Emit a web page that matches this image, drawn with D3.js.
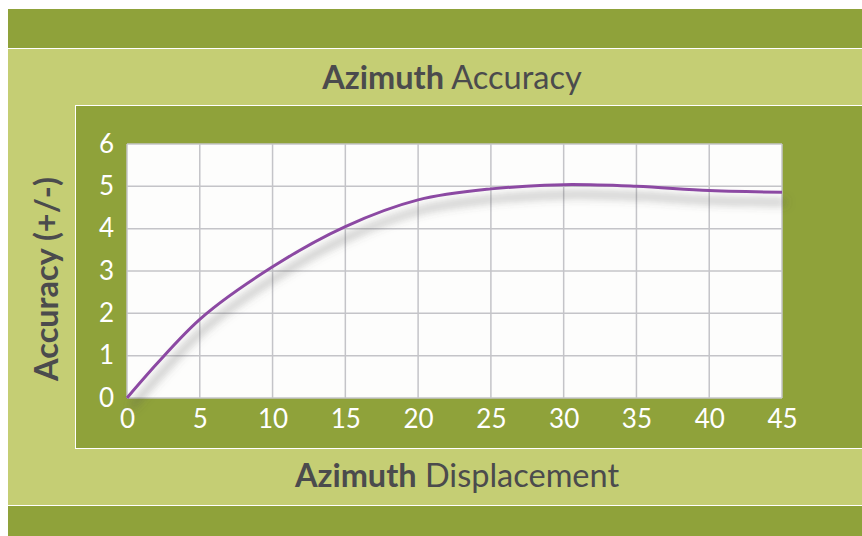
<!DOCTYPE html>
<html>
<head>
<meta charset="utf-8">
<script src="https://cdn.jsdelivr.net/npm/d3@7"></script>
<style>
  body { margin: 0; background: #fff; }
  svg { display: block; font-family: Lato, "Open Sans", sans-serif; }
</style>
</head>
<body>
<svg id="chart" width="862" height="536"></svg>
<script>
// Valeurs
const displacement = [0, 5, 10, 15, 20, 25, 30, 35, 40, 45];
const accuracy = [0, 1.86, 3.1, 4.05, 4.68, 4.94, 5.04, 5.0, 4.9, 4.86];
const xTicks = [0, 5, 10, 15, 20, 25, 30, 35, 40, 45];
const yTicks = [0, 1, 2, 3, 4, 5, 6];

const dark = '#8fa23a';
const light = '#c5ce74';
const textColor = '#4b4b4d';

const svg = d3.select('#chart');

// Bandes de fond
svg.append('rect').attr('x', 8).attr('y', 9).attr('width', 854).attr('height', 39).attr('fill', dark);
svg.append('rect').attr('x', 8).attr('y', 49).attr('width', 854).attr('height', 456).attr('fill', light);
svg.append('rect').attr('x', 8).attr('y', 506).attr('width', 854).attr('height', 30).attr('fill', dark);

// Panneau intérieur
svg.append('rect').attr('x', 75.5).attr('y', 105.5).attr('width', 800).attr('height', 343)
    .attr('fill', dark).attr('stroke', '#fff').attr('stroke-width', 1);

const x = d3.scaleLinear().domain([0, 45]).range([127, 782]);
const y = d3.scaleLinear().domain([0, 6]).range([398, 144]);

// Zone du graphique
svg.append('rect')
    .attr('x', x(0)).attr('y', y(6))
    .attr('width', x(45) - x(0)).attr('height', y(0) - y(6))
    .attr('fill', '#fdfdfc');

// Grille
const grid = svg.append('g');
grid.selectAll('.vline')
    .data(xTicks)
    .enter().append('line')
    .attr('x1', d => x(d)).attr('x2', d => x(d))
    .attr('y1', y(0)).attr('y2', y(6))
    .attr('stroke', '#c4c4c8').attr('stroke-width', 1.5);
grid.selectAll('.hline')
    .data(yTicks)
    .enter().append('line')
    .attr('x1', x(0)).attr('x2', x(45))
    .attr('y1', d => y(d)).attr('y2', d => y(d))
    .attr('stroke', '#c4c4c8').attr('stroke-width', 1.5);

// Axes (étiquettes blanches)
const xAxis = d3.axisBottom(x).tickValues(xTicks).tickSize(0).tickPadding(12).tickFormat(d3.format('d'));
const yAxis = d3.axisLeft(y).tickValues(yTicks).tickSize(0).tickPadding(13).tickFormat(d3.format('d'));

svg.append('g')
    .attr('transform', `translate(0,${y(0)})`)
    .call(xAxis)
    .call(g => g.select('.domain').remove())
    .selectAll('text')
    .attr('fill', '#fff').attr('font-size', 26).attr('font-family', 'Lato, sans-serif');

svg.append('g')
    .attr('transform', `translate(${x(0)},0)`)
    .call(yAxis)
    .call(g => g.select('.domain').remove())
    .selectAll('text')
    .attr('fill', '#fff').attr('font-size', 26).attr('font-family', 'Lato, sans-serif');

// Ombre de la courbe
const defs = svg.append('defs');
const filter = defs.append('filter').attr('id', 'shadow')
    .attr('x', '-10%').attr('y', '-10%').attr('width', '120%').attr('height', '140%');
filter.append('feDropShadow')
    .attr('dx', 4).attr('dy', 10).attr('stdDeviation', 5)
    .attr('flood-color', '#555').attr('flood-opacity', 0.75);

const data = displacement.map((d, i) => ({ x: d, y: accuracy[i] }));
const line = d3.line()
    .x(d => x(d.x))
    .y(d => y(d.y))
    .curve(d3.curveCatmullRom.alpha(0.5));

svg.append('path')
    .datum(data)
    .attr('d', line)
    .attr('fill', 'none')
    .attr('stroke', '#8c4aa3')
    .attr('stroke-width', 3)
    .attr('filter', 'url(#shadow)');

// Titres
const title = svg.append('text')
    .attr('x', 452).attr('y', 89)
    .attr('text-anchor', 'middle')
    .attr('font-size', 32.5).attr('fill', textColor);
title.append('tspan').attr('font-weight', 'bold').text('Azimuth');
title.append('tspan').text(' Accuracy');

const xTitle = svg.append('text')
    .attr('x', 457).attr('y', 487)
    .attr('text-anchor', 'middle')
    .attr('font-size', 32.5).attr('fill', textColor);
xTitle.append('tspan').attr('font-weight', 'bold').text('Azimuth');
xTitle.append('tspan').text(' Displacement');

svg.append('text')
    .attr('transform', 'translate(58,279) rotate(-90)')
    .attr('text-anchor', 'middle')
    .attr('font-size', 32.5).attr('font-weight', 'bold').attr('fill', textColor)
    .text('Accuracy (+/-)');
</script>
</body>
</html>
